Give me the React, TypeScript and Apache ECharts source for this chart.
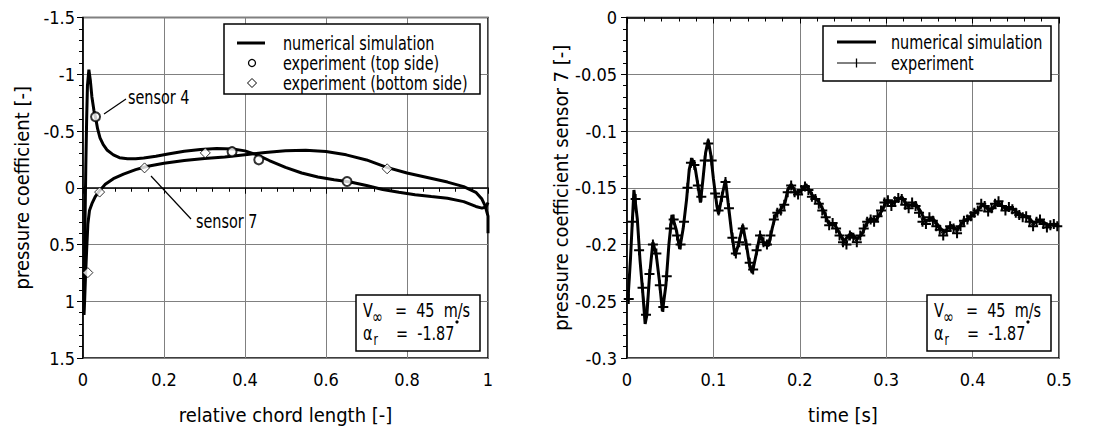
import React, { useEffect, useRef } from "react";
import * as echarts from "echarts";

// ---------- left chart data (relative chord length, pressure coefficient) ----------
const simTopSide: [number, number][] = [
  [0.002, 1.12], [0.003, 0.8], [0.005, 0.3], [0.007, -0.2], [0.009, -0.6], [0.011, -0.9],
  [0.0145, -1.04], [0.018, -0.95], [0.022, -0.8], [0.027, -0.68], [0.031, -0.62], [0.036, -0.52],
  [0.042, -0.44], [0.05, -0.38], [0.06, -0.33], [0.075, -0.29], [0.09, -0.265], [0.11, -0.255],
  [0.13, -0.255], [0.15, -0.262], [0.18, -0.278], [0.21, -0.298], [0.25, -0.322], [0.29, -0.338],
  [0.33, -0.345], [0.37, -0.342], [0.4, -0.325], [0.43, -0.29], [0.46, -0.24], [0.5, -0.18],
  [0.54, -0.13], [0.58, -0.095], [0.62, -0.07], [0.66, -0.05], [0.7, -0.02], [0.74, 0.015],
  [0.78, 0.04], [0.82, 0.062], [0.86, 0.078], [0.9, 0.093], [0.94, 0.122], [0.97, 0.165],
  [0.985, 0.18], [0.995, 0.17], [1.0, 0.13],
];
const simBottomSide: [number, number][] = [
  [0.002, 1.12], [0.004, 1.0], [0.006, 0.8], [0.009, 0.55], [0.012, 0.32], [0.016, 0.2],
  [0.022, 0.14], [0.03, 0.08], [0.04, 0.03], [0.055, -0.03], [0.075, -0.08], [0.1, -0.12],
  [0.13, -0.16], [0.16, -0.19], [0.2, -0.215], [0.25, -0.24], [0.3, -0.258], [0.35, -0.27],
  [0.4, -0.29], [0.45, -0.31], [0.5, -0.325], [0.55, -0.33], [0.6, -0.32], [0.65, -0.29],
  [0.7, -0.245], [0.75, -0.18], [0.8, -0.13], [0.85, -0.09], [0.9, -0.05], [0.94, -0.01],
  [0.97, 0.04], [0.985, 0.1], [0.993, 0.16], [1.0, 0.25], [1.0, 0.4],
];
const expTopSide: [number, number][] = [
  [0.031, -0.625], [0.368, -0.318], [0.434, -0.246], [0.652, -0.055],
];
const expBottomSide: [number, number][] = [
  [0.012, 0.748], [0.041, 0.038], [0.152, -0.175], [0.302, -0.307], [0.751, -0.167],
];

// ---------- right chart data (time, pressure coefficient sensor 7) ----------
const simTime: [number, number][] = [
  [0.001, -0.25], [0.004, -0.213], [0.008, -0.152], [0.012, -0.178], [0.015, -0.213], [0.018, -0.24],
  [0.021, -0.27], [0.023, -0.262], [0.026, -0.228], [0.03, -0.198], [0.034, -0.21], [0.0375, -0.232],
  [0.041, -0.259], [0.045, -0.236], [0.0485, -0.2], [0.052, -0.174], [0.057, -0.187], [0.061, -0.204],
  [0.065, -0.186], [0.069, -0.16], [0.072, -0.134], [0.075, -0.124], [0.079, -0.133], [0.083, -0.152],
  [0.085, -0.163], [0.088, -0.142], [0.091, -0.119], [0.094, -0.108], [0.097, -0.121], [0.1, -0.142],
  [0.104, -0.166], [0.106, -0.173], [0.11, -0.157], [0.114, -0.143], [0.117, -0.163], [0.121, -0.189],
  [0.125, -0.21], [0.129, -0.2], [0.134, -0.183], [0.139, -0.204], [0.142, -0.219], [0.145, -0.225],
  [0.15, -0.207], [0.154, -0.191], [0.159, -0.2], [0.164, -0.201], [0.168, -0.186], [0.172, -0.174],
  [0.177, -0.17], [0.183, -0.163], [0.186, -0.152], [0.19, -0.147], [0.196, -0.155], [0.201, -0.153],
  [0.207, -0.147], [0.215, -0.157], [0.222, -0.162], [0.228, -0.171], [0.233, -0.181], [0.24, -0.182],
  [0.246, -0.19], [0.251, -0.197], [0.259, -0.19], [0.266, -0.195], [0.272, -0.191], [0.277, -0.182],
  [0.282, -0.177], [0.288, -0.179], [0.296, -0.169], [0.301, -0.161], [0.308, -0.164], [0.318, -0.158],
  [0.325, -0.166], [0.334, -0.164], [0.34, -0.171], [0.345, -0.179], [0.354, -0.177], [0.362, -0.185],
  [0.367, -0.189], [0.375, -0.183], [0.382, -0.187], [0.389, -0.18], [0.397, -0.176], [0.406, -0.17],
  [0.411, -0.165], [0.421, -0.17], [0.43, -0.163], [0.439, -0.169], [0.446, -0.168], [0.454, -0.173],
  [0.465, -0.176], [0.47, -0.181], [0.479, -0.179], [0.488, -0.183], [0.495, -0.182], [0.5, -0.184],
];
const expTimes: number[] = [
  0.002, 0.006, 0.01, 0.014, 0.018, 0.022, 0.026, 0.03, 0.034, 0.038, 0.042, 0.046, 0.05, 0.054, 0.058,
  0.062, 0.066, 0.07, 0.074, 0.078, 0.082, 0.086, 0.09, 0.094, 0.098, 0.102, 0.106, 0.11, 0.114, 0.118,
  0.122, 0.126, 0.13, 0.134, 0.138, 0.142, 0.146, 0.15, 0.154, 0.158, 0.162, 0.166, 0.17, 0.174, 0.178,
  0.182, 0.186, 0.19, 0.194, 0.198, 0.202, 0.206, 0.21, 0.214, 0.218, 0.222, 0.226, 0.23, 0.234, 0.238,
  0.242, 0.246, 0.25, 0.254, 0.258, 0.262, 0.266, 0.27, 0.274, 0.278, 0.282, 0.286, 0.29, 0.294, 0.298,
  0.302, 0.306, 0.31, 0.314, 0.318, 0.322, 0.326, 0.33, 0.334, 0.338, 0.342, 0.346, 0.35, 0.354, 0.358,
  0.362, 0.366, 0.37, 0.374, 0.378, 0.382, 0.386, 0.39, 0.394, 0.398, 0.402, 0.406, 0.41, 0.414, 0.418,
  0.422, 0.426, 0.43, 0.434, 0.438, 0.442, 0.446, 0.45, 0.454, 0.458, 0.462, 0.466, 0.47, 0.474, 0.478,
  0.482, 0.486, 0.49, 0.494, 0.498,
];
const expValues: number[] = [
  -0.248, -0.18, -0.16, -0.205, -0.238, -0.262, -0.226, -0.2, -0.208, -0.236, -0.255, -0.228, -0.186, -0.178, -0.192,
  -0.2, -0.18, -0.15, -0.128, -0.13, -0.148, -0.158, -0.126, -0.111, -0.126, -0.155, -0.17, -0.158, -0.145, -0.168,
  -0.194, -0.208, -0.198, -0.186, -0.2, -0.216, -0.222, -0.205, -0.192, -0.198, -0.2, -0.192, -0.178, -0.172, -0.17,
  -0.165, -0.154, -0.148, -0.154, -0.156, -0.152, -0.149, -0.152, -0.158, -0.16, -0.164, -0.17, -0.176, -0.183, -0.181,
  -0.186, -0.192, -0.198, -0.2, -0.192, -0.194, -0.198, -0.192, -0.186, -0.18, -0.178, -0.18, -0.175, -0.17, -0.163,
  -0.161, -0.166, -0.162, -0.159, -0.16, -0.165, -0.168, -0.163, -0.166, -0.172, -0.18, -0.182, -0.176, -0.179, -0.184,
  -0.187, -0.192, -0.188, -0.184, -0.186, -0.19, -0.184, -0.179, -0.178, -0.175, -0.172, -0.17, -0.164, -0.166, -0.171,
  -0.168, -0.164, -0.162, -0.166, -0.17, -0.167, -0.169, -0.172, -0.174, -0.176, -0.175, -0.18, -0.184, -0.18, -0.178,
  -0.182, -0.185, -0.183, -0.182, -0.184,
];

const legendLeft = ["numerical simulation", "experiment (top side)", "experiment (bottom side)"];
const legendRight = ["numerical simulation", "experiment"];

const FONT = "'DejaVu Sans Condensed', 'DejaVu Sans', sans-serif";
const PLUS = "path://M4,0L6,0L6,4L10,4L10,6L6,6L6,10L4,10L4,6L0,6L0,4L4,4Z";
const GRID = "#808080";
const SX = 0.8;

function axisCommon() {
  return {
    axisLine: { show: true, lineStyle: { color: "#000", width: 1.5 } },
    axisTick: { show: true, inside: false, length: 6, lineStyle: { color: "#000", width: 1 } },
    minorTick: { show: true, splitNumber: 5, length: 4, lineStyle: { color: "#000", width: 1 } },
    splitLine: { show: true, lineStyle: { color: GRID, width: 1 } },
    minorSplitLine: { show: false },
    axisLabel: { color: "#000", fontFamily: FONT, fontSize: 18 },
    nameLocation: "middle" as const,
    nameTextStyle: { color: "#000", fontFamily: FONT, fontSize: 20 },
  };
}

function txt(x: number, y: number, text: string, size = 20, extra: any = {}) {
  return {
    type: "text",
    x,
    y,
    scaleX: SX,
    z: 100,
    style: { text, fill: "#000", fontFamily: FONT, fontSize: size, verticalAlign: "middle", ...extra },
  };
}

function infoBox(ox: number) {
  return [
    { type: "rect", z: 99, shape: { x: ox, y: 295, width: 124, height: 56 }, style: { fill: "#fff", stroke: "#000", lineWidth: 1.5 } },
    txt(ox + 7, 310, "V"),
    txt(ox + 16, 317, "∞", 18),
    txt(ox + 39, 310, "=  45  m/s"),
    txt(ox + 7, 333, "α"),
    txt(ox + 17.5, 339, "r", 15),
    txt(ox + 40, 333, "=  -1.87"),
    { type: "circle", z: 100, shape: { cx: ox + 101, cy: 322, r: 1.6 }, style: { fill: "#000" } },
  ];
}

export default function App() {
  const ref = useRef<HTMLDivElement>(null);
  useEffect(() => {
    if (!ref.current) return;
    const chart = echarts.init(ref.current, undefined, { renderer: "svg" });
    const c = axisCommon();
    const option: any = {
      animation: false,
      backgroundColor: "#fff",
      textStyle: { fontFamily: FONT },
      grid: [
        { left: 83, top: 17.5, width: 405, height: 342, show: true, borderColor: "#000", borderWidth: 1.5, backgroundColor: "transparent" },
        { left: 627, top: 17.5, width: 432, height: 342, show: true, borderColor: "#000", borderWidth: 1.5, backgroundColor: "transparent" },
      ],
      xAxis: [
        { ...c, type: "value", gridIndex: 0, min: 0, max: 1, interval: 0.2, name: "relative chord length [-]", nameGap: 47,
          axisLabel: { ...c.axisLabel, margin: 12 } },
        { ...c, type: "value", gridIndex: 1, min: 0, max: 0.5, interval: 0.1, name: "time [s]", nameGap: 47,
          axisLabel: { ...c.axisLabel, margin: 12 } },
      ],
      yAxis: [
        { ...c, type: "value", gridIndex: 0, min: -1.5, max: 1.5, interval: 0.5, inverse: true,
          name: "pressure coefficient [-]", nameGap: 51, axisLabel: { ...c.axisLabel, margin: 8 } },
        { ...c, type: "value", gridIndex: 1, min: -0.3, max: 0, interval: 0.05,
          name: "pressure coefficient sensor 7 [-]", nameGap: 51, axisLabel: { ...c.axisLabel, margin: 10 } },
      ],
      series: [
        { name: legendLeft[0], type: "line", xAxisIndex: 0, yAxisIndex: 0, data: simTopSide, showSymbol: false, symbol: "none",
          lineStyle: { color: "#000", width: 3 }, z: 3 },
        { name: legendLeft[0], type: "line", xAxisIndex: 0, yAxisIndex: 0, data: simBottomSide, showSymbol: false, symbol: "none",
          lineStyle: { color: "#000", width: 3 }, z: 3 },
        { name: legendLeft[1], type: "scatter", xAxisIndex: 0, yAxisIndex: 0, data: expTopSide, symbol: "circle", symbolSize: 9,
          itemStyle: { color: "#fff", borderColor: "#000", borderWidth: 2 }, z: 5 },
        { name: legendLeft[2], type: "scatter", xAxisIndex: 0, yAxisIndex: 0, data: expBottomSide, symbol: "diamond", symbolSize: [10, 10],
          itemStyle: { color: "#fff", borderColor: "#000", borderWidth: 1 }, z: 5 },
        { name: legendRight[1], type: "line", xAxisIndex: 1, yAxisIndex: 1,
          data: expTimes.map((t, i) => [t, expValues[i]]),
          symbol: PLUS, symbolSize: 10, showSymbol: true, showAllSymbol: true,
          lineStyle: { color: "#000", width: 1 }, itemStyle: { color: "#000", borderWidth: 0 }, z: 3 },
        { name: legendRight[0], type: "line", xAxisIndex: 1, yAxisIndex: 1, data: simTime, showSymbol: false, symbol: "none",
          lineStyle: { color: "#000", width: 3 }, z: 4 },
      ],
      graphic: [
        // left legend
        { type: "rect", z: 99, shape: { x: 224, y: 24, width: 256, height: 70 }, style: { fill: "#fff", stroke: "#000", lineWidth: 1.5 } },
        { type: "line", z: 100, shape: { x1: 237, y1: 43, x2: 265, y2: 43 }, style: { stroke: "#000", lineWidth: 3 } },
        txt(283, 43, legendLeft[0]),
        { type: "circle", z: 100, shape: { cx: 252, cy: 63, r: 3.5 }, style: { fill: "#fff", stroke: "#000", lineWidth: 1.3 } },
        txt(283, 63, legendLeft[1]),
        { type: "polygon", z: 100, shape: { points: [[252, 78.5], [256.5, 83], [252, 87.5], [247.5, 83]] }, style: { fill: "#fff", stroke: "#000", lineWidth: 1 } },
        txt(283, 83, legendLeft[2]),
        // right legend
        { type: "rect", z: 99, shape: { x: 823, y: 26, width: 228, height: 55 }, style: { fill: "#fff", stroke: "#000", lineWidth: 1.5 } },
        { type: "line", z: 100, shape: { x1: 837, y1: 42, x2: 876, y2: 42 }, style: { stroke: "#000", lineWidth: 3 } },
        txt(891, 42, legendRight[0]),
        { type: "line", z: 100, shape: { x1: 837, y1: 63, x2: 876, y2: 63 }, style: { stroke: "#000", lineWidth: 1 } },
        { type: "line", z: 100, shape: { x1: 856.5, y1: 58.5, x2: 856.5, y2: 67.5 }, style: { stroke: "#000", lineWidth: 1.3 } },
        txt(891, 63, legendRight[1]),
        // info boxes
        ...infoBox(356),
        ...infoBox(927),
        // sensor annotations
        { type: "line", z: 100, shape: { x1: 104, y1: 114, x2: 126, y2: 99 }, style: { stroke: "#000", lineWidth: 1.2 } },
        txt(128, 97, "sensor 4"),
        { type: "line", z: 100, shape: { x1: 151, y1: 176, x2: 191, y2: 219 }, style: { stroke: "#000", lineWidth: 1.2 } },
        txt(196, 221, "sensor 7"),
      ],
    };
    chart.setOption(option);
    return () => chart.dispose();
  }, []);
  return (
    <div
      ref={ref}
      style={{ position: "fixed", left: 0, top: 0, width: 1104, height: 430, background: "#fff" }}
    />
  );
}
